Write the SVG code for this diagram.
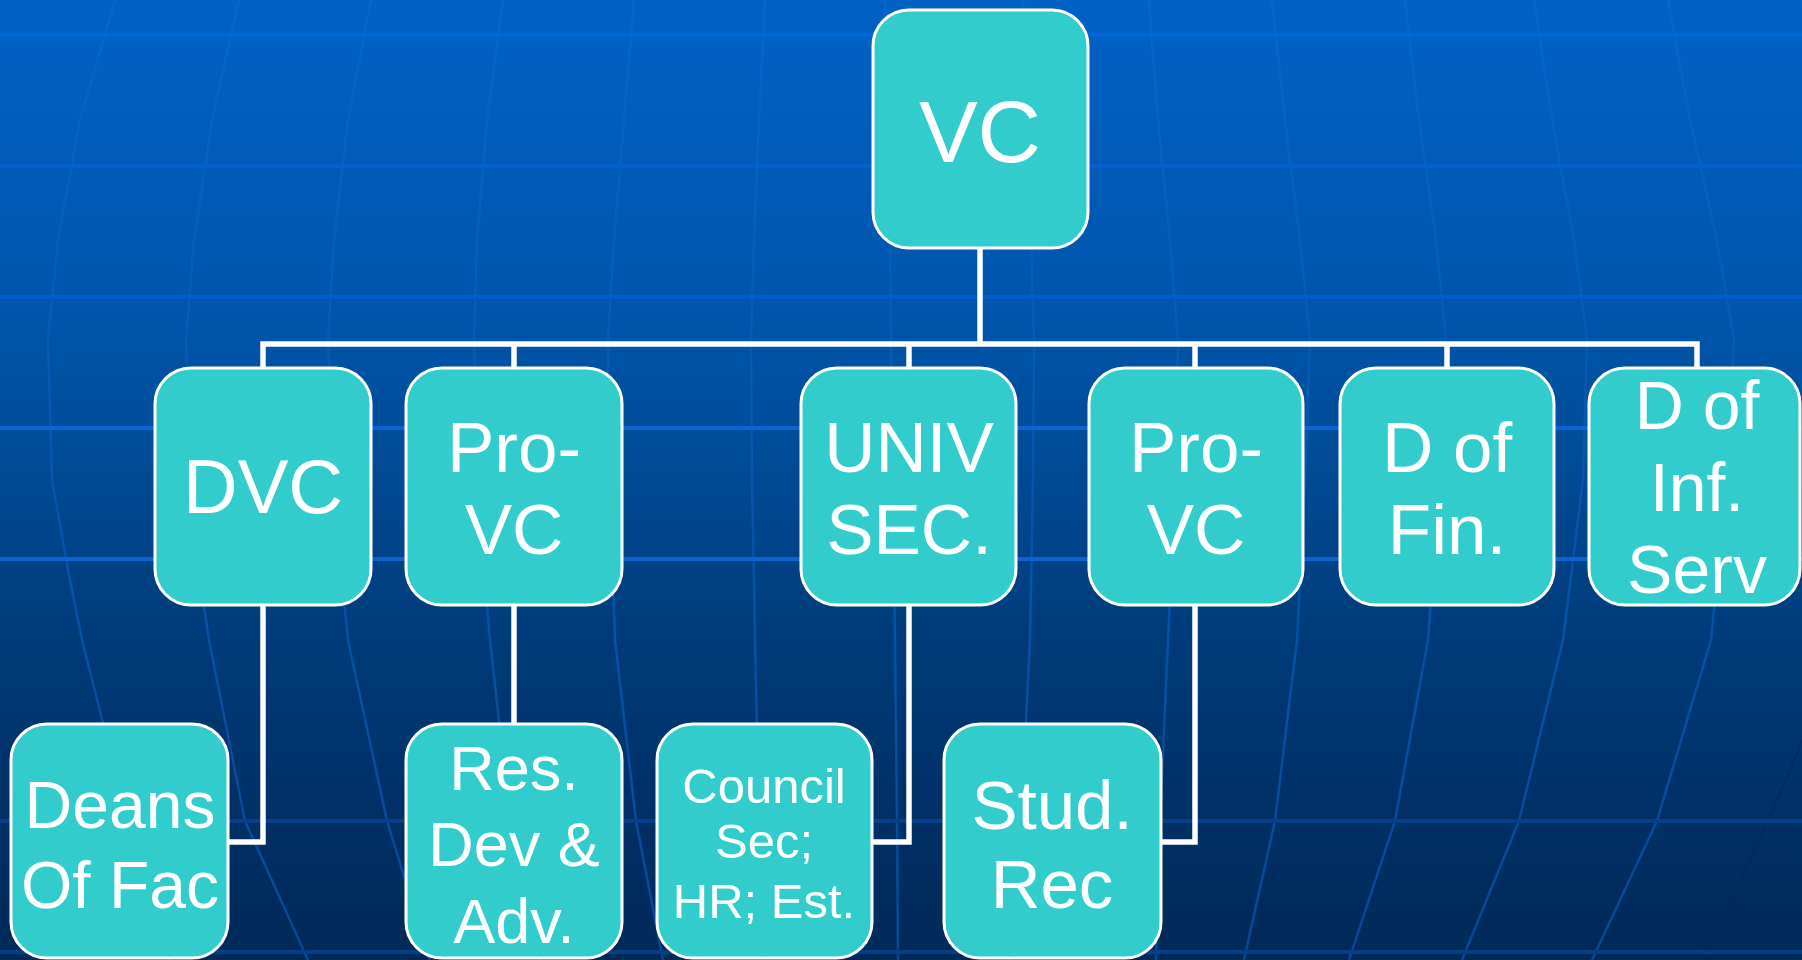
<svg xmlns="http://www.w3.org/2000/svg" width="1802" height="960" viewBox="0 0 1802 960">
  <defs>
    <linearGradient id="bg" x1="0" y1="0" x2="0" y2="1">
      <stop offset="0" stop-color="#0062c6"/>
      <stop offset="0.33" stop-color="#0055ab"/>
      <stop offset="0.5" stop-color="#004a94"/>
      <stop offset="0.67" stop-color="#003b79"/>
      <stop offset="0.85" stop-color="#003066"/>
      <stop offset="1" stop-color="#002a58"/>
    </linearGradient>
    <linearGradient id="mer" gradientUnits="userSpaceOnUse" x1="0" y1="0" x2="0" y2="960">
      <stop offset="0" stop-color="#0667cc"/>
      <stop offset="0.5" stop-color="#0656ad"/>
      <stop offset="1" stop-color="#074896"/>
    </linearGradient>
    <style>
      .mer { fill: none; stroke: url(#mer); stroke-width: 2.5; stroke-linejoin: round; }
      .hl { stroke-width: 4; }
      .node rect { fill: #33cccc; stroke: #ffffff; stroke-width: 3; }
      .node text { fill: #ffffff; font-family: "Liberation Sans", Arial, sans-serif; text-anchor: middle; }
      .conn { fill: none; stroke: #ffffff; stroke-width: 5.5; stroke-linejoin: miter; }
    </style>
  </defs>

  <!-- background -->
  <rect x="0" y="0" width="1802" height="960" fill="url(#bg)"/>
  <g id="grid">
    <polyline class="mer" points="115,0 80,120 58,240 48,340 52,480 70,580 82,640 103,723 135,821 170,960"/>
    <polyline class="mer" points="239,0 212,120 194,240 186,340 190,480 200,580 209,640 245,821 308,960"/>
    <polyline class="mer" points="371,0 348,120 334,240 328,340 335,480 342,580 348,640 387,821 430,960"/>
    <polyline class="mer" points="503,0 487,120 477,240 474,340 478,480 485,580 490,640 510,821 540,960"/>
    <polyline class="mer" points="634,0 624,120 614,240 608,340 610,480 613,580 615,640 636,821 663,960"/>
    <polyline class="mer" points="765,0 759,120 754,240 751,340 752,480 754,580 755,640 759,821 765,960"/>
    <polyline class="mer" points="885,0 887,120 890,240 891,340 893,480 895,640 897,821 898,960"/>
    <polyline class="mer" points="1023,0 1027,120 1031,240 1034,340 1033,480 1030,640 1021,821 1010,960"/>
    <polyline class="mer" points="1149,0 1158,120 1170,240 1178,340 1176,480 1168,640 1160,821 1156,960"/>
    <polyline class="mer" points="1272,0 1285,120 1300,240 1310,340 1305,480 1297,640 1275,821 1244,960"/>
    <polyline class="mer" points="1405,0 1419,120 1436,240 1446,340 1440,480 1428,640 1395,821 1349,960"/>
    <polyline class="mer" points="1534,0 1552,120 1574,240 1587,340 1583,480 1563,640 1519,821 1462,960"/>
    <polyline class="mer" points="1668,0 1690,120 1717,240 1734,340 1727,480 1711,640 1657,821 1592,960"/>
    <polyline points="1802,740 1789,773 1705,960" fill="none" stroke="#002a5c" stroke-width="2" opacity="0.7"/>
    <line class="hl" x1="0" y1="35" x2="1802" y2="35" stroke="#0068d4"/>
    <line class="hl" x1="0" y1="166" x2="1802" y2="166" stroke="#0062cc" stroke-width="3"/>
    <line class="hl" x1="0" y1="297" x2="1802" y2="297" stroke="#005ecb" stroke-width="3"/>
    <line class="hl" x1="0" y1="428" x2="1802" y2="428" stroke="#0a66d4"/>
    <line class="hl" x1="0" y1="559" x2="1802" y2="559" stroke="#0a64d0"/>
    <line class="hl" x1="0" y1="821" x2="1802" y2="821" stroke="#05418a" stroke-width="3"/>
    <line class="hl" x1="0" y1="952" x2="1802" y2="952" stroke="#063f86"/>
  </g>

  <!-- connectors -->
  <g id="connectors">
    <path class="conn" d="M980,248 V344"/>
    <path class="conn" d="M263,368 V344 H1697 V368"/>
    <path class="conn" d="M514,344 V368"/>
    <path class="conn" d="M909,344 V368"/>
    <path class="conn" d="M1195,344 V368"/>
    <path class="conn" d="M1447,344 V368"/>
    <path class="conn" d="M263,605 V842 H228"/>
    <path class="conn" d="M514,605 V724"/>
    <path class="conn" d="M909,605 V842 H872"/>
    <path class="conn" d="M1195,605 V842 H1161"/>
  </g>

  <!-- nodes -->
  <g id="node-vc" class="node">
    <rect x="873" y="10" width="215" height="238" rx="36" ry="36"/>
    <text x="980" y="162" font-size="88">VC</text>
  </g>

  <g id="node-dvc" class="node">
    <rect x="155" y="368" width="216" height="237" rx="36" ry="36"/>
    <text x="263" y="513" font-size="76">DVC</text>
  </g>
  <g id="node-provc1" class="node">
    <rect x="406" y="368" width="216" height="237" rx="36" ry="36"/>
    <text x="514" y="472" font-size="71">Pro-</text>
    <text x="514" y="554" font-size="71">VC</text>
  </g>
  <g id="node-univsec" class="node">
    <rect x="801" y="368" width="215" height="237" rx="36" ry="36"/>
    <text x="909" y="472" font-size="71">UNIV</text>
    <text x="909" y="554" font-size="71">SEC.</text>
  </g>
  <g id="node-provc2" class="node">
    <rect x="1089" y="368" width="214" height="237" rx="36" ry="36"/>
    <text x="1196" y="472" font-size="71">Pro-</text>
    <text x="1196" y="554" font-size="71">VC</text>
  </g>
  <g id="node-dfin" class="node">
    <rect x="1340" y="368" width="214" height="237" rx="36" ry="36"/>
    <text x="1447" y="472" font-size="71">D of</text>
    <text x="1447" y="554" font-size="71">Fin.</text>
  </g>
  <g id="node-dinf" class="node">
    <rect x="1589" y="368" width="211" height="237" rx="36" ry="36"/>
    <text x="1697" y="429" font-size="68">D of</text>
    <text x="1697" y="511" font-size="68">Inf.</text>
    <text x="1697" y="593" font-size="68">Serv</text>
  </g>

  <g id="node-deans" class="node">
    <rect x="11" y="724" width="217" height="234" rx="36" ry="36"/>
    <text x="120" y="828" font-size="66">Deans</text>
    <text x="120" y="908" font-size="66">Of Fac</text>
  </g>
  <g id="node-res" class="node">
    <rect x="406" y="724" width="216" height="234" rx="36" ry="36"/>
    <text x="514" y="790" font-size="63">Res.</text>
    <text x="514" y="866" font-size="63">Dev &amp;</text>
    <text x="514" y="943" font-size="63">Adv.</text>
  </g>
  <g id="node-council" class="node">
    <rect x="657" y="724" width="215" height="234" rx="36" ry="36"/>
    <text x="764" y="803" font-size="49">Council</text>
    <text x="764" y="858" font-size="49">Sec;</text>
    <text x="764" y="918" font-size="49">HR; Est.</text>
  </g>
  <g id="node-stud" class="node">
    <rect x="944" y="724" width="217" height="234" rx="36" ry="36"/>
    <text x="1052" y="829" font-size="69">Stud.</text>
    <text x="1052" y="908" font-size="69">Rec</text>
  </g>
</svg>
